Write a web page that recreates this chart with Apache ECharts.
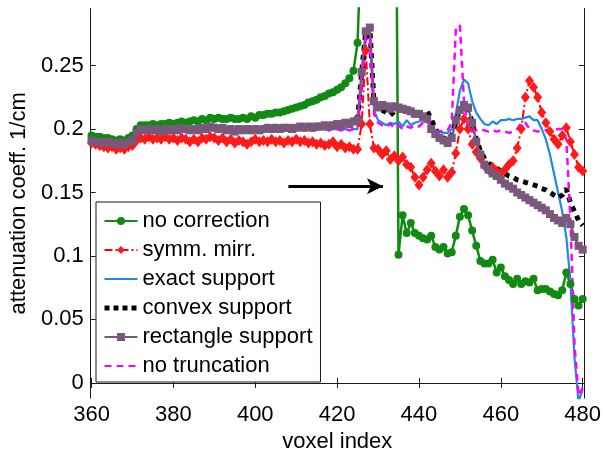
<!DOCTYPE html>
<html>
<head>
<meta charset="utf-8">
<script src="https://cdn.jsdelivr.net/npm/echarts@6/dist/echarts.min.js"></script>
<style>html,body{margin:0;padding:0;background:#fff}#c{width:604px;height:458px}</style>
</head>
<body>
<div id="c"></div>
<script>
const voxelStart = 360;
const xTicks = [360, 380, 400, 420, 440, 460, 480];
const yTicks = [0, 0.05, 0.1, 0.15, 0.2, 0.25];
const seriesNames = ['no correction', 'symm. mirr.', 'exact support', 'convex support', 'rectangle support', 'no truncation'];

const noCorrection = [
0.195,0.194,0.194,0.193,0.193,0.192,0.191,0.192,0.191,0.193,
0.195,0.200,0.203,0.203,0.203,0.204,0.203,0.204,0.204,0.205,
0.204,0.205,0.206,0.205,0.206,0.207,0.206,0.208,0.207,0.209,
0.208,0.209,0.208,0.208,0.209,0.208,0.208,0.209,0.208,0.210,
0.209,0.211,0.211,0.212,0.212,0.213,0.213,0.214,0.215,0.216,
0.217,0.218,0.219,0.221,0.222,0.223,0.225,0.226,0.228,0.229,
0.231,0.233,0.236,0.240,0.246,0.268,0.360,0.600,0.600,0.600,
0.600,0.600,0.600,0.600,0.600,0.101,0.132,0.118,0.126,0.118,
0.116,0.114,0.113,0.116,0.107,0.105,0.107,0.102,0.103,0.116,
0.131,0.137,0.132,0.120,0.108,0.096,0.094,0.094,0.097,0.087,
0.091,0.084,0.081,0.078,0.082,0.078,0.080,0.079,0.082,0.073,
0.074,0.074,0.072,0.070,0.069,0.073,0.087,0.078,0.066,0.061,
0.066];

const symmMirr = [
0.189,0.188,0.187,0.186,0.185,0.186,0.184,0.185,0.184,0.186,
0.187,0.191,0.193,0.192,0.194,0.192,0.193,0.192,0.194,0.192,
0.193,0.191,0.193,0.192,0.190,0.192,0.190,0.193,0.192,0.194,
0.193,0.191,0.193,0.190,0.192,0.189,0.191,0.190,0.188,0.190,
0.192,0.190,0.191,0.190,0.192,0.190,0.191,0.189,0.191,0.190,
0.192,0.190,0.191,0.189,0.190,0.188,0.189,0.187,0.188,0.190,
0.186,0.188,0.185,0.186,0.184,0.184,0.204,0.262,0.204,0.185,
0.184,0.180,0.183,0.176,0.179,0.175,0.178,0.172,0.170,0.162,
0.156,0.162,0.168,0.173,0.167,0.163,0.168,0.162,0.166,0.181,
0.200,0.208,0.200,0.188,0.182,0.177,0.171,0.168,0.170,0.167,
0.165,0.168,0.172,0.175,0.185,0.200,0.225,0.238,0.233,0.225,
0.213,0.205,0.198,0.192,0.188,0.195,0.201,0.190,0.180,0.170,
0.167];

const exactSupport = [
0.190,0.189,0.189,0.188,0.189,0.188,0.187,0.188,0.187,0.189,
0.190,0.196,0.198,0.197,0.198,0.197,0.198,0.196,0.198,0.197,
0.198,0.197,0.199,0.198,0.197,0.198,0.197,0.199,0.198,0.200,
0.199,0.198,0.199,0.197,0.198,0.196,0.198,0.197,0.198,0.197,
0.198,0.197,0.198,0.199,0.198,0.199,0.198,0.199,0.199,0.198,
0.199,0.200,0.199,0.200,0.199,0.200,0.200,0.200,0.199,0.200,
0.200,0.199,0.200,0.199,0.200,0.200,0.235,0.272,0.272,0.215,
0.207,0.205,0.203,0.205,0.204,0.206,0.202,0.207,0.203,0.205,
0.206,0.207,0.208,0.203,0.199,0.198,0.197,0.197,0.200,0.212,
0.230,0.239,0.236,0.222,0.213,0.208,0.204,0.203,0.206,0.204,
0.207,0.207,0.208,0.207,0.208,0.208,0.209,0.210,0.207,0.207,
0.200,0.192,0.180,0.165,0.150,0.135,0.115,0.080,0.020,-0.015,
-0.005];

const convexSupport = [
0.191,0.190,0.190,0.189,0.190,0.189,0.188,0.189,0.188,0.190,
0.191,0.197,0.200,0.199,0.200,0.199,0.200,0.198,0.200,0.199,
0.200,0.199,0.201,0.200,0.199,0.200,0.199,0.201,0.200,0.202,
0.201,0.200,0.201,0.199,0.200,0.198,0.200,0.199,0.200,0.199,
0.200,0.199,0.200,0.201,0.200,0.201,0.200,0.201,0.201,0.200,
0.201,0.202,0.201,0.202,0.201,0.202,0.202,0.203,0.202,0.203,
0.204,0.203,0.205,0.204,0.206,0.207,0.245,0.277,0.280,0.222,
0.217,0.215,0.213,0.211,0.214,0.215,0.215,0.214,0.213,0.212,
0.212,0.213,0.214,0.208,0.200,0.196,0.193,0.191,0.195,0.205,
0.215,0.219,0.217,0.205,0.192,0.183,0.177,0.173,0.171,0.169,
0.167,0.165,0.163,0.162,0.160,0.159,0.158,0.157,0.156,0.155,
0.153,0.152,0.150,0.148,0.146,0.148,0.153,0.142,0.135,0.128,
0.124];

const rectangleSupport = [
0.191,0.190,0.190,0.189,0.190,0.189,0.188,0.189,0.188,0.190,
0.191,0.197,0.200,0.199,0.200,0.199,0.200,0.198,0.200,0.199,
0.200,0.199,0.201,0.200,0.199,0.200,0.199,0.201,0.200,0.202,
0.201,0.200,0.201,0.199,0.200,0.198,0.200,0.199,0.200,0.199,
0.200,0.199,0.200,0.201,0.200,0.201,0.200,0.201,0.201,0.200,
0.201,0.202,0.201,0.202,0.201,0.202,0.202,0.203,0.202,0.203,
0.204,0.203,0.205,0.204,0.206,0.207,0.245,0.277,0.280,0.222,
0.217,0.219,0.218,0.216,0.218,0.217,0.216,0.215,0.214,0.212,
0.212,0.210,0.208,0.200,0.196,0.193,0.191,0.189,0.193,0.207,
0.215,0.219,0.217,0.205,0.190,0.180,0.172,0.168,0.165,0.163,
0.160,0.157,0.155,0.153,0.150,0.148,0.146,0.144,0.142,0.140,
0.138,0.136,0.133,0.130,0.128,0.126,0.130,0.125,0.115,0.108,
0.105];

const noTruncation = [
0.190,0.189,0.189,0.188,0.189,0.188,0.187,0.188,0.187,0.189,
0.190,0.196,0.198,0.197,0.198,0.197,0.198,0.196,0.198,0.197,
0.198,0.197,0.199,0.198,0.197,0.198,0.197,0.199,0.198,0.200,
0.199,0.198,0.199,0.197,0.198,0.196,0.198,0.197,0.198,0.197,
0.198,0.197,0.198,0.199,0.198,0.199,0.198,0.199,0.199,0.198,
0.199,0.200,0.199,0.200,0.199,0.200,0.200,0.200,0.199,0.200,
0.200,0.199,0.200,0.199,0.200,0.201,0.235,0.273,0.272,0.212,
0.205,0.203,0.202,0.204,0.201,0.203,0.200,0.202,0.201,0.203,
0.202,0.205,0.206,0.201,0.199,0.198,0.199,0.199,0.205,0.278,
0.282,0.222,0.200,0.198,0.199,0.200,0.199,0.198,0.199,0.198,
0.199,0.198,0.197,0.198,0.200,0.205,0.205,0.200,0.199,0.198,
0.199,0.199,0.200,0.199,0.200,0.200,0.192,0.130,0.030,-0.010,
-0.004];

const arrowStart = [408.1, 0.155];
const arrowEnd = [431.2, 0.155];

function pairs(arr) { return arr.map((v, i) => [voxelStart + i, v]); }

const FONT = '"Liberation Sans", Arial, Helvetica, sans-serif';
const chart = echarts.init(document.getElementById('c'), null, {renderer: 'canvas'});

const axisBase = {
  type: 'value',
  axisLine: {show: true, lineStyle: {color: '#1a1a1a', width: 1}},
  axisTick: {show: true, inside: true, length: 5, lineStyle: {color: '#1a1a1a'}},
  splitLine: {show: false}
};
const X_MIN = 359.8, X_MAX = 480.3, Y_MIN = -0.012, Y_MAX = 0.295;

const option = {
  backgroundColor: '#ffffff',
  animation: false,
  textStyle: {fontFamily: FONT},
  grid: {left: 82.5, right: 20, top: 8.5, bottom: 58, containLabel: false},
  xAxis: [
    Object.assign({}, axisBase, {
      position: 'bottom', min: X_MIN, max: X_MAX,
      axisTick: Object.assign({}, axisBase.axisTick, {customValues: xTicks}),
      axisLabel: {customValues: xTicks, fontSize: 22, color: '#000', margin: 6, fontFamily: FONT},
      name: 'voxel index', nameLocation: 'middle', nameGap: 30,
      nameTextStyle: {fontSize: 22, color: '#000', fontFamily: FONT}
    }),
    Object.assign({}, axisBase, {
      position: 'top', min: X_MIN, max: X_MAX,
      axisTick: Object.assign({}, axisBase.axisTick, {customValues: xTicks}),
      axisLabel: {show: false}
    })
  ],
  yAxis: [
    Object.assign({}, axisBase, {
      position: 'left', min: Y_MIN, max: Y_MAX,
      axisTick: Object.assign({}, axisBase.axisTick, {customValues: yTicks}),
      axisLabel: {customValues: yTicks, fontSize: 22, color: '#000', margin: 7, fontFamily: FONT,
        formatter: v => String(Math.round(v * 100) / 100)},
      name: 'attenuation coeff. 1/cm', nameLocation: 'middle', nameGap: 52, nameRotate: 90,
      nameTextStyle: {fontSize: 22, color: '#000', fontFamily: FONT}
    }),
    Object.assign({}, axisBase, {
      position: 'right', min: Y_MIN, max: Y_MAX,
      axisTick: Object.assign({}, axisBase.axisTick, {customValues: yTicks}),
      axisLabel: {show: false}
    })
  ],
  legend: {
    orient: 'vertical', left: 96, top: 202,
    data: [
      {name: seriesNames[0]},
      {name: seriesNames[1]},
      {name: seriesNames[2], itemStyle: {opacity: 0}},
      {name: seriesNames[3], itemStyle: {opacity: 0}, lineStyle: {width: 5, type: [5, 4]}},
      {name: seriesNames[4]},
      {name: seriesNames[5], itemStyle: {opacity: 0}}
    ],
    itemWidth: 33, itemHeight: 10, itemGap: 7,
    padding: [8, 8, 5, 6],
    backgroundColor: '#fff', borderColor: '#1a1a1a', borderWidth: 1, borderRadius: 0,
    textStyle: {fontSize: 22, color: '#000', fontFamily: FONT, lineHeight: 22},
    selectedMode: false
  },
  series: [
    {
      name: seriesNames[0], type: 'line', data: pairs(noCorrection),
      symbol: 'circle', symbolSize: 8, clip: true,
      lineStyle: {color: '#118a11', width: 2.5},
      itemStyle: {color: '#118a11'},
      markLine: {
        silent: true, symbol: ['none', 'arrow'], symbolSize: [12, 16],
        lineStyle: {color: '#000', width: 3, type: 'solid'},
        label: {show: false},
        data: [[{coord: arrowStart}, {coord: arrowEnd}]]
      }
    },
    {
      name: seriesNames[1], type: 'line', data: pairs(symmMirr),
      symbol: 'diamond', symbolSize: [9, 11], clip: true,
      lineStyle: {color: '#ff0000', width: 2, type: [8, 3, 2, 3]},
      itemStyle: {color: '#ff1a1a'}
    },
    {
      name: seriesNames[2], type: 'line', data: pairs(exactSupport),
      symbol: 'none', clip: true,
      lineStyle: {color: '#1e8ae6', width: 2.2},
      itemStyle: {color: '#1e8ae6'}
    },
    {
      name: seriesNames[3], type: 'line', data: pairs(convexSupport),
      symbol: 'none', clip: true,
      lineStyle: {color: '#000', width: 5, type: [5, 5], cap: 'butt'},
      itemStyle: {color: '#000'}
    },
    {
      name: seriesNames[4], type: 'line', data: pairs(rectangleSupport),
      symbol: 'rect', symbolSize: 8, clip: true,
      lineStyle: {color: '#7a587c', width: 2.5},
      itemStyle: {color: '#7a587c'}
    },
    {
      name: seriesNames[5], type: 'line', data: pairs(noTruncation),
      symbol: 'none', clip: true,
      lineStyle: {color: '#ff00ff', width: 2.5, type: [7, 5]},
      itemStyle: {color: '#ff00ff'}
    }
  ]
};
chart.setOption(option);
</script>
</body>
</html>
